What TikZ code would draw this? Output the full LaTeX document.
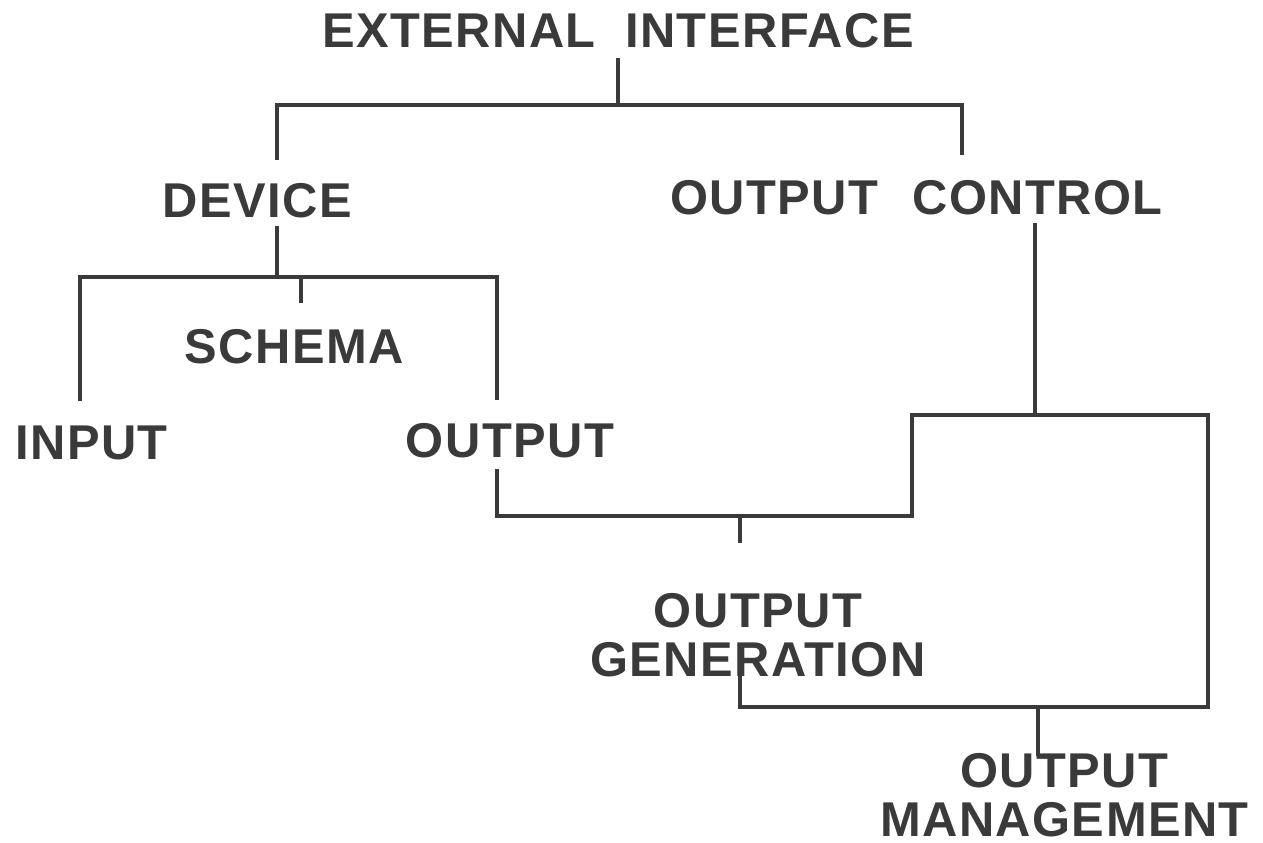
\documentclass[tikz,border=0pt]{standalone}
\usepackage{fontspec}
\newfontfamily\labelfont{Liberation Sans}[LetterSpace=3]
\usepackage{tikz}
\usetikzlibrary{calc}
\definecolor{ink}{RGB}{58,58,58}

\begin{document}
\begin{tikzpicture}[
    lbl/.style={inner sep=0pt,align=center,text=ink,
      font=\labelfont\bfseries\fontsize{13.9pt}{4.9mm}\selectfont},
    link/.style={draw=ink,line width=1.2pt,line join=miter}]
  \useasboundingbox (0,0) rectangle (12.63,-8.43);
  \node[lbl,anchor=base] (ext) at (6.18,-0.47) {EXTERNAL\hspace{0.6em}INTERFACE};
  \node[lbl,anchor=base] (dev) at (2.57,-2.18) {DEVICE};
  \node[lbl,anchor=base] (ctl) at (9.165,-2.15) {OUTPUT\hspace{0.7em}CONTROL};
  \node[lbl,anchor=base] (sch) at (2.94,-3.63) {SCHEMA};
  \node[lbl,anchor=base] (inp) at (0.915,-4.60) {INPUT};
  \node[lbl,anchor=base] (outp) at (5.10,-4.58) {OUTPUT};
  \node[lbl,anchor=north] (gen) at (7.58,-5.93) {OUTPUT\\GENERATION};
  \node[lbl,anchor=north] (mgmt) at (10.645,-7.53) {OUTPUT\\MANAGEMENT};
  \coordinate (b1l) at (2.77,-1.05);
  \coordinate (b1r) at (9.62,-1.05);
  \coordinate (b2l) at (0.80,-2.77);
  \coordinate (b2m) at (3.01,-2.77);
  \coordinate (b2r) at (4.97,-2.77);
  \coordinate (b3l) at (9.12,-4.15);
  \coordinate (b3m) at (10.35,-4.15);
  \coordinate (b3r) at (12.08,-4.15);
  \coordinate (b4l) at (4.97,-5.16);
  \coordinate (b4m) at (7.40,-5.16);
  \coordinate (b5l) at (7.40,-7.07);
  \coordinate (b5m) at (10.38,-7.07);
  \draw[link] ([yshift=-1mm]ext.south) -- (ext.south |- b1l);
  \draw[link] ($(b1l |- dev.north)+(0,0.23)$) -- (b1l) -- (b1r) -- ($(b1r |- ctl.north)+(0,0.25)$);
  \draw[link] ($(b1l |- dev.south)+(0,-0.07)$) -- (b1l |- b2l);
  \draw[link] ($(b2l |- inp.north)+(0,0.25)$) -- (b2l) -- (b2r) -- ($(b2r |- outp.north)+(0,0.23)$);
  \draw[link] (b2m) -- ($(b2m |- sch.north)+(0,0.25)$);
  \draw[link] ($(b3m |- ctl.south)+(0,-0.07)$) -- (b3m);
  \draw[link] ($(b2r |- outp.south)+(0,-0.10)$) -- (b4l) -| (b3l) -- (b3r) |- (b5l)
    -- ($(b5l |- gen.south)+(0,0.04)$);
  \draw[link] (b4m) -- ($(b4m |- gen.north)+(0,0.50)$);
  \draw[link] (b5m) -- ($(b5m |- mgmt.north)+(0,-0.03)$);
\end{tikzpicture}
\end{document}
